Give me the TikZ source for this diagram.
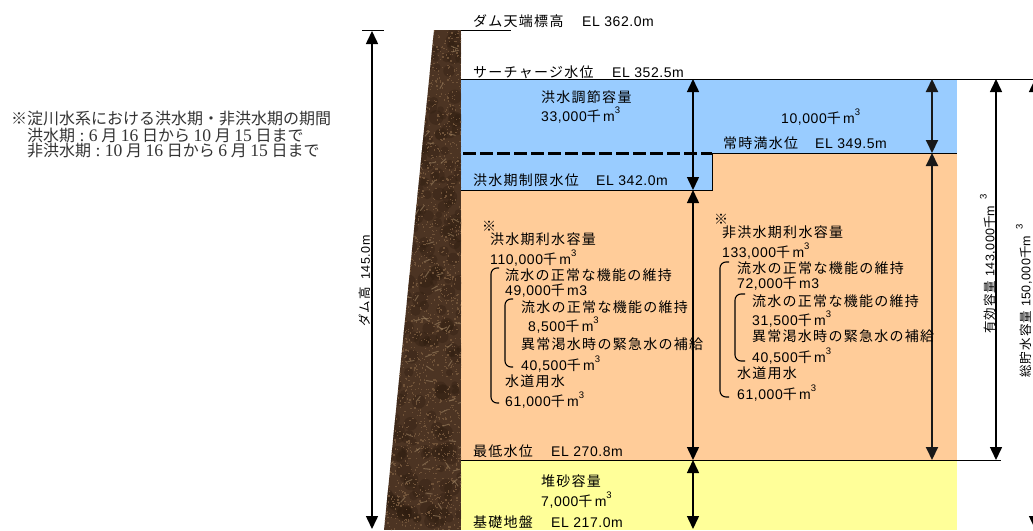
\documentclass[tikz,border=0pt]{standalone}
\usepackage{fontspec}
\setmainfont[LetterSpace=9]{Noto Sans CJK JP}
\newfontfamily\latfont[LetterSpace=4]{Liberation Sans}
\newfontfamily\notelatin[Scale=1.1]{Liberation Serif}
\newfontfamily\notecjk{Noto Sans CJK JP}
\usetikzlibrary{arrows.meta,positioning}
\definecolor{floodblue}{HTML}{99CCFF}
\definecolor{storeorange}{HTML}{FFCC99}
\definecolor{sandyellow}{HTML}{FFFF99}
\definecolor{rockbrown}{HTML}{4C3423}
\definecolor{rockdark}{HTML}{2E1D10}
\definecolor{rockmid}{HTML}{6F5238}
\definecolor{rocktan}{HTML}{A58A68}
\newcommand{\lat}[1]{{\latfont #1}}
\newcommand{\cub}{\raisebox{0.62em}{\fontsize{9.5}{9.5}\selectfont\latfont 3}}
\newcommand{\sen}[1]{\lat{#1}千\lat{\,m}\cub}
\newcommand{\lv}[3]{\makebox[#1pt][l]{#2}\lat{#3}}
\tikzset{lbl/.style={anchor=west,inner sep=0pt,font=\fontsize{14}{16}\selectfont},
        vlbl/.style={rotate=90,inner sep=0pt,font=\fontsize{12.5}{15}\selectfont},
        note/.style={anchor=west,inner sep=0pt,black!80,font=\fontsize{16}{18}\notecjk\selectfont},
        every edge/.style={ % all the level arrows
            draw,
            {Triangle[width=12pt,length=13pt]}-{Triangle[width=12pt,length=13pt]},
            line width=1.5pt},
        bracket/.style={line width=1.1pt,rounded corners=6pt}
        }
\begin{document}
\begin{tikzpicture}[x=1pt,y=-1pt]
    \clip (0,0) rectangle (1033,530);
    % water and sediment
    \fill[floodblue]   (461,79) rectangle (957,190);
    \fill[storeorange] (461,190) rectangle (957,460);
    \fill[storeorange] (712,153) rectangle (957,190);
    \fill[sandyellow]  (461,460) rectangle (957,530);
    % dam body
    \begin{scope}
        \clip (434,30) -- (461,30) -- (461,530) -- (384,530) -- cycle;
        \fill[rockbrown] (384,30) rectangle (461,530);
        \pgfmathsetseed{12}
        \foreach \i in {1,...,260} {
            \pgfmathsetmacro{\px}{384+77*rnd}
            \pgfmathsetmacro{\py}{30+500*rnd}
            \pgfmathsetmacro{\pr}{3+5*rnd}
            \fill[rockdark,opacity=0.35] (\px,\py) circle (\pr);
        }
        \foreach \i in {1,...,2200} {
            \pgfmathsetmacro{\px}{384+77*rnd}
            \pgfmathsetmacro{\py}{30+500*rnd}
            \fill[rockmid] (\px,\py) rectangle ++(1.3,1.3);
        }
        \foreach \i in {1,...,90} {
            \pgfmathsetmacro{\px}{384+77*rnd}
            \pgfmathsetmacro{\py}{30+500*rnd}
            \pgfmathsetmacro{\pa}{-60+120*rnd}
            \draw[rocktan,opacity=0.55,line width=1pt] (\px,\py) -- ++(\pa:7);
        }
    \end{scope}

    % level ends
    \coordinate (crestL)  at (461,30);
    \coordinate (crestR)  at (511,30);
    \coordinate (tickL)   at (362,30);
    \coordinate (tickR)   at (384,30);
    \coordinate (surgeL)  at (461,79);
    \coordinate (surgeR)  at (1033,79);
    \coordinate (dashL)   at (463,153);
    \coordinate (stepT)   at (712,153);
    \coordinate (fullR)   at (957,153);
    \coordinate (stepB)   at (712,190);
    \coordinate (limitL)  at (461,190);
    \coordinate (lowL)    at (461,460);
    \coordinate (lowR)    at (1001,460);
    \coordinate (heightT) at (372,31);
    \coordinate (heightB) at (372,529);
    \coordinate (a1) at (693,79);
    \coordinate (a2) at (693,190);
    \coordinate (a3) at (693,460);
    \coordinate (a4) at (693,529);
    \coordinate (b1) at (932,79);
    \coordinate (b2) at (932,153);
    \coordinate (b3) at (932,460);
    \coordinate (c1) at (996,79);
    \coordinate (c2) at (996,460);
    \coordinate (d1) at (1035,79);
    \coordinate (d2) at (1035,529);

    \draw[line width=1pt] (crestL) -- (crestR);
    \draw[line width=1pt] (tickL) -- (tickR);
    \draw[line width=1pt] (surgeL) -- (surgeR);
    \draw[line width=3pt,dash pattern=on 12.5pt off 4.5pt] (dashL) -- (stepT);
    \draw[line width=1pt] (limitL) -- (stepB) -- (stepT) -- (fullR);
    \draw[line width=1pt] (lowL) -- (lowR);

    \draw
        (heightT) edge (heightB)
        (a1) edge (a2)
        (a2) edge (a3)
        (a3) edge (a4)
        (c1) edge (c2)
        (d1) edge (d2);
    \draw[black!90]
        (b1) edge [line width=2pt] (b2)
        (b2) edge [line width=2pt] (b3);

    % note on the left
    \node[note] (note1) at (11,119) {※淀川水系における洪水期・非洪水期の期間};
    \node[note] (note2) at (27,135) {洪水期{\notelatin\ :\ 6} 月 {\notelatin 16} 日から {\notelatin 10} 月 {\notelatin 15} 日まで};
    \node[note] (note3) at (27,151) {非洪水期{\notelatin\ :\ 10} 月 {\notelatin 16} 日から {\notelatin 6} 月 {\notelatin 15} 日まで};

    % levels
    \node[lbl] (crest)  at (473,21)  {\lv{109}{ダム天端標高}{EL 362.0m}};
    \node[lbl] (surge)  at (473,72)  {\lv{139}{サーチャージ水位}{EL 352.5m}};
    \node[lbl] (full)   at (723,143) {\lv{92}{常時満水位}{EL 349.5m}};
    \node[lbl] (limit)  at (473,180) {\lv{123}{洪水期制限水位}{EL 342.0m}};
    \node[lbl] (lowest) at (473,451) {\lv{78}{最低水位}{EL 270.8m}};
    \node[lbl] (base)   at (473,522) {\lv{78}{基礎地盤}{EL 217.0m}};

    % capacities
    \node[lbl] (ctrl)  at (541,97)  {洪水調節容量};
    \node[lbl] (ctrlv) at (541,115) {\sen{33,000}};
    \node[lbl] (upper) at (781,117) {\sen{10,000}};
    \node[lbl] (sand)  at (541,481) {堆砂容量};
    \node[lbl] (sandv) at (541,500) {\sen{7,000}};

    % flood season column
    \node[lbl] (fmark) at (482,226) {※};
    \node[lbl] (f1)  at (490,239) {洪水期利水容量};
    \node[lbl] (f2)  at (490,258) {\sen{110,000}};
    \node[lbl] (f3)  at (505,275) {流水の正常な機能の維持};
    \node[lbl] (f4)  at (505,291) {\lat{49,000}千\lat{\,m3}};
    \node[lbl] (f5)  at (521,307) {流水の正常な機能の維持};
    \node[lbl] (f6)  at (528,325) {\sen{8,500}};
    \node[lbl] (f7)  at (521,344) {異常渇水時の緊急水の補給};
    \node[lbl] (f8)  at (521,364) {\sen{40,500}};
    \node[lbl] (f9)  at (505,381) {水道用水};
    \node[lbl] (f10) at (505,400) {\sen{61,000}};

    % non-flood season column
    \node[lbl] (nmark) at (714,219) {※};
    \node[lbl] (n1)  at (722,232) {非洪水期利水容量};
    \node[lbl] (n2)  at (722,251) {\sen{133,000}};
    \node[lbl] (n3)  at (737,268) {流水の正常な機能の維持};
    \node[lbl] (n4)  at (737,284) {\lat{72,000}千\lat{\,m3}};
    \node[lbl] (n5)  at (752,301) {流水の正常な機能の維持};
    \node[lbl] (n6)  at (752,319) {\sen{31,500}};
    \node[lbl] (n7)  at (752,336) {異常渇水時の緊急水の補給};
    \node[lbl] (n8)  at (752,356) {\sen{40,500}};
    \node[lbl] (n9)  at (737,373) {水道用水};
    \node[lbl] (n10) at (737,393) {\sen{61,000}};

    % brackets
    \draw[bracket] (499,268) -- (491,268) -- (491,403) -- (499,403);
    \draw[bracket] (513,299) -- (505,299) -- (505,367) -- (513,367);
    \draw[bracket] (729,262) -- (720,262) -- (720,397) -- (729,397);
    \draw[bracket] (745,294) -- (735,294) -- (735,361) -- (745,361);

    % rotated labels
    \node[vlbl] (height) at (365,281) {ダム高\hspace{0.6em}\lat{145.0m}};
    \node[vlbl] (active) at (988,264) {有効容量\hspace{0.3em}\lat{143,000}千\lat{m}\hspace{0.5em}\cub};
    \node[vlbl] (total)  at (1024,301) {総貯水容量\hspace{0.3em}\lat{150,000}千\lat{m}\hspace{0.5em}\cub};
\end{tikzpicture}
\end{document}
